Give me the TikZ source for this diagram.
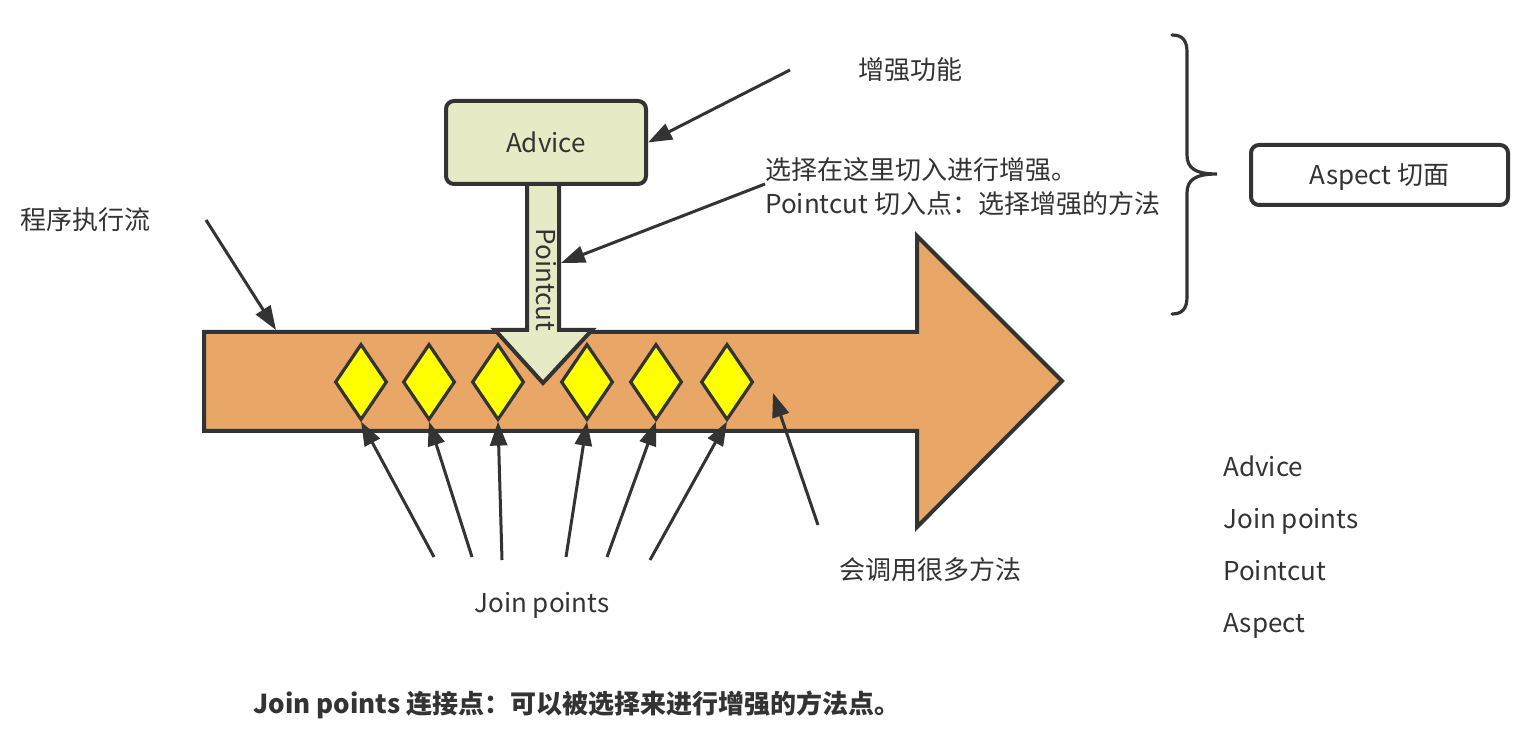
\documentclass[tikz,border=0pt]{standalone}
\usepackage{fontspec}
\setmainfont{Noto Sans CJK SC}
\usetikzlibrary{shapes.geometric,arrows.meta}
\definecolor{ink}{HTML}{333333}
\definecolor{flow}{HTML}{E8A667}
\definecolor{adv}{HTML}{E6EBC5}
\definecolor{jp}{HTML}{FFFF00}
\tikzset{
  lbl/.style={font=\fontsize{13}{15}\selectfont, text=ink, inner sep=0pt, text height=1.05em, text depth=0.09em},
  arr/.style={draw=ink, line width=1.5pt, -{Triangle[length=12pt,width=8.5pt]}},
  dia/.style={diamond, draw=ink, fill=jp, line width=1.6pt, minimum width=26pt, minimum height=38pt, inner sep=0pt},
  rbox/.style={draw=ink, line width=2pt, rounded corners=4pt, inner sep=0pt}
}
\begin{document}
\begin{tikzpicture}[x=0.5pt,y=-0.5pt]
\useasboundingbox (0,0) rectangle (1536,753);
% big flow arrow
\draw[draw=ink, fill=flow, line width=2pt, line join=miter]
  (204,332) -- (917,332) -- (917,236) -- (1062,381) -- (917,527) -- (917,431) -- (204,431) -- cycle;
% pointcut arrow
\draw[draw=ink, fill=adv, line width=2pt, line join=miter]
  (527,184) -- (527,330) -- (495,330) -- (543,383) -- (592,330) -- (559,330) -- (559,184);
\node[lbl, rotate=-90, text height=0.85em, text depth=0.2em] (pc) at (543,280) {Pointcut};
% advice box
\node[rbox, fill=adv, minimum width=100pt, minimum height=41.5pt, lbl, draw=ink] (advice) at (546,142.5) {Advice};
% diamonds
\foreach \i/\x in {1/361,2/429,3/498,4/587,5/656,6/727}{
  \node[dia] (d\i) at (\x,382) {};
}
% join point arrows
\coordinate (s1) at (434,557);
\coordinate (s2) at (472,557);
\coordinate (s3) at (502,560);
\coordinate (s4) at (566,557);
\coordinate (s5) at (607,557);
\coordinate (s6) at (650,560);
\foreach \i in {1,...,6}{ \draw[arr] (s\i) -- (d\i.south); }
\coordinate (s7) at (818,525);
\coordinate (e7) at (773,393);
\draw[arr] (s7) -- (e7);
% labels
\node[lbl] (zq) at (910,70) {增强功能};
\coordinate (zqs) at (790,70);
\draw[arr] (zqs) -- (advice.east);
\node[lbl, anchor=west] (flowlbl) at (20,220) {程序执行流};
\coordinate (fls) at (206,220);
\coordinate (fle) at (276,330);
\draw[arr] (fls) -- (fle);
\node[lbl, anchor=west] (sel1) at (765,170) {选择在这里切入进行增强。};
\node[lbl, anchor=west] (sel2) at (765,204) {Pointcut 切入点：选择增强的方法};
\coordinate (sels) at (765,184);
\coordinate (pce) at (561,263);
\draw[arr] (sels) -- (pce);
\node[lbl] (jplbl) at (542,603) {Join points};
\node[lbl] (many) at (930,570) {会调用很多方法};
% brace
\draw[draw=ink, line width=1.6pt, line cap=round]
  (1172,35) .. controls (1182,35) and (1187,40) .. (1187,52)
  -- (1187,155) .. controls (1187,168) and (1195,174) .. (1217,174)
  .. controls (1195,174) and (1187,180) .. (1187,193)
  -- (1187,297) .. controls (1187,309) and (1182,314) .. (1172,314);
\node[rbox, lbl, draw=ink, minimum width=128.5pt, minimum height=30pt] (aspect) at (1379.5,175) {Aspect 切面};
% legend
\node[lbl, anchor=west] (l1) at (1223,467) {Advice};
\node[lbl, anchor=west] (l2) at (1223,519) {Join points};
\node[lbl, anchor=west] (l3) at (1223,571) {Pointcut};
\node[lbl, anchor=west] (l4) at (1223,623) {Aspect};
% bottom note
\node[lbl, anchor=west, font=\fontsize{13}{15}\selectfont\bfseries] (note) at (253,704) {Join points 连接点：可以被选择来进行增强的方法点。};
\end{tikzpicture}
\end{document}
